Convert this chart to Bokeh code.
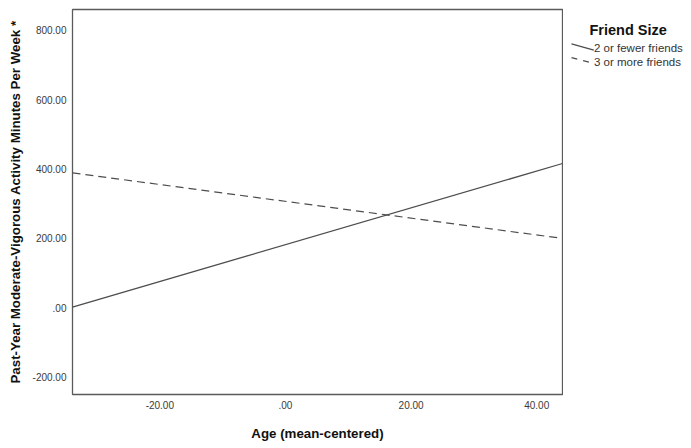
from bokeh.plotting import figure
from bokeh.layouts import row
from bokeh.models import Range1d, FixedTicker, ColumnDataSource
from bokeh.core.properties import value
from bokeh.embed import file_html
from bokeh.resources import INLINE

# ---- data ----
groups = ["2 or fewer friends", "3 or more friends"]
age = [-33.9, 44.1]
fewer_friends = [2.0, 416.0]
more_friends = [389.0, 200.0]
x_ticks = [-20, 0, 20, 40]
x_tick_labels = ["-20.00", ".00", "20.00", "40.00"]
y_ticks = [-200, 0, 200, 400, 600, 800]
y_tick_labels = ["-200.00", ".00", "200.00", "400.00", "600.00", "800.00"]
x_title = "Age (mean-centered)"
y_title = "Past-Year Moderate-Vigorous Activity Minutes Per Week *"
legend_title = "Friend Size"

FONT = "Liberation Sans"
LINE_COLOR = "#4d4d4d"
DASH = "8 5"

H = 448
W_MAIN, W_LEG = 563, 128
ML, MR, MT, MB = 72, 1, 9, 54

p = figure(width=W_MAIN, height=H, output_backend="svg", toolbar_location=None,
           x_range=Range1d(age[0], age[1]), y_range=Range1d(-250, 860),
           min_border_left=ML, min_border_right=MR, min_border_top=MT, min_border_bottom=MB)

p.outline_line_color = "#5a5a5a"
p.outline_line_width = 1.3
p.grid.visible = False
p.border_fill_color = "white"

for ax, ticks, labels in ((p.xaxis[0], x_ticks, x_tick_labels), (p.yaxis[0], y_ticks, y_tick_labels)):
    ax.ticker = FixedTicker(ticks=ticks)
    ax.major_label_overrides = {t: l for t, l in zip(ticks, labels)}
    ax.axis_line_color = None
    ax.major_tick_line_color = None
    ax.minor_tick_line_color = None
    ax.major_label_text_font = FONT
    ax.major_label_text_font_size = "10px"
    ax.major_label_text_color = "#3a3a3a"
    ax.axis_label_text_font = FONT
    ax.axis_label_text_font_style = "bold"
    ax.axis_label_text_font_size = "13.3px"
    ax.axis_label_text_color = "#111111"

p.xaxis.major_label_standoff = 0
p.xaxis.axis_label = x_title
p.xaxis.axis_label_standoff = 14
p.yaxis.major_label_standoff = 0
p.yaxis.axis_label = y_title
p.yaxis.axis_label_standoff = 7

src = ColumnDataSource(dict(age=age, fewer=fewer_friends, more=more_friends))
p.line("age", "fewer", source=src, line_color=LINE_COLOR, line_width=1.3)
p.line("age", "more", source=src, line_color=LINE_COLOR, line_width=1.2, line_dash=DASH)

# ---- legend panel: a second figure whose ranges are its own pixels (y down) ----
lg = figure(width=W_LEG, height=H, output_backend="svg", toolbar_location=None,
            x_range=Range1d(0, W_LEG), y_range=Range1d(H, 0),
            min_border=0, outline_line_color=None)
lg.axis.visible = False
lg.grid.visible = False
lg.border_fill_color = "white"

lg.text(x=[26], y=[24], text=[legend_title], text_font=value(FONT), text_font_style="bold",
        text_font_size="14.5px", text_color="#111111", text_align="left", text_baseline="middle")
item_y = [45, 60.7]
lg.text(x=[30.5, 30.5], y=item_y, text=groups, text_font=value(FONT), text_font_size="11.5px",
        text_color="#333333", text_align="left", text_baseline="middle")
lg.segment(x0=[8], y0=[item_y[0] - 5], x1=[30.3], y1=[item_y[0] + 2.3],
           line_color=LINE_COLOR, line_width=1.2)
lg.segment(x0=[8], y0=[item_y[1] - 4.7], x1=[30], y1=[item_y[1] + 2],
           line_color=LINE_COLOR, line_width=1.2, line_dash="6 6")

layout = row(p, lg, spacing=0)
open("out.html", "w").write(file_html(layout, INLINE))
